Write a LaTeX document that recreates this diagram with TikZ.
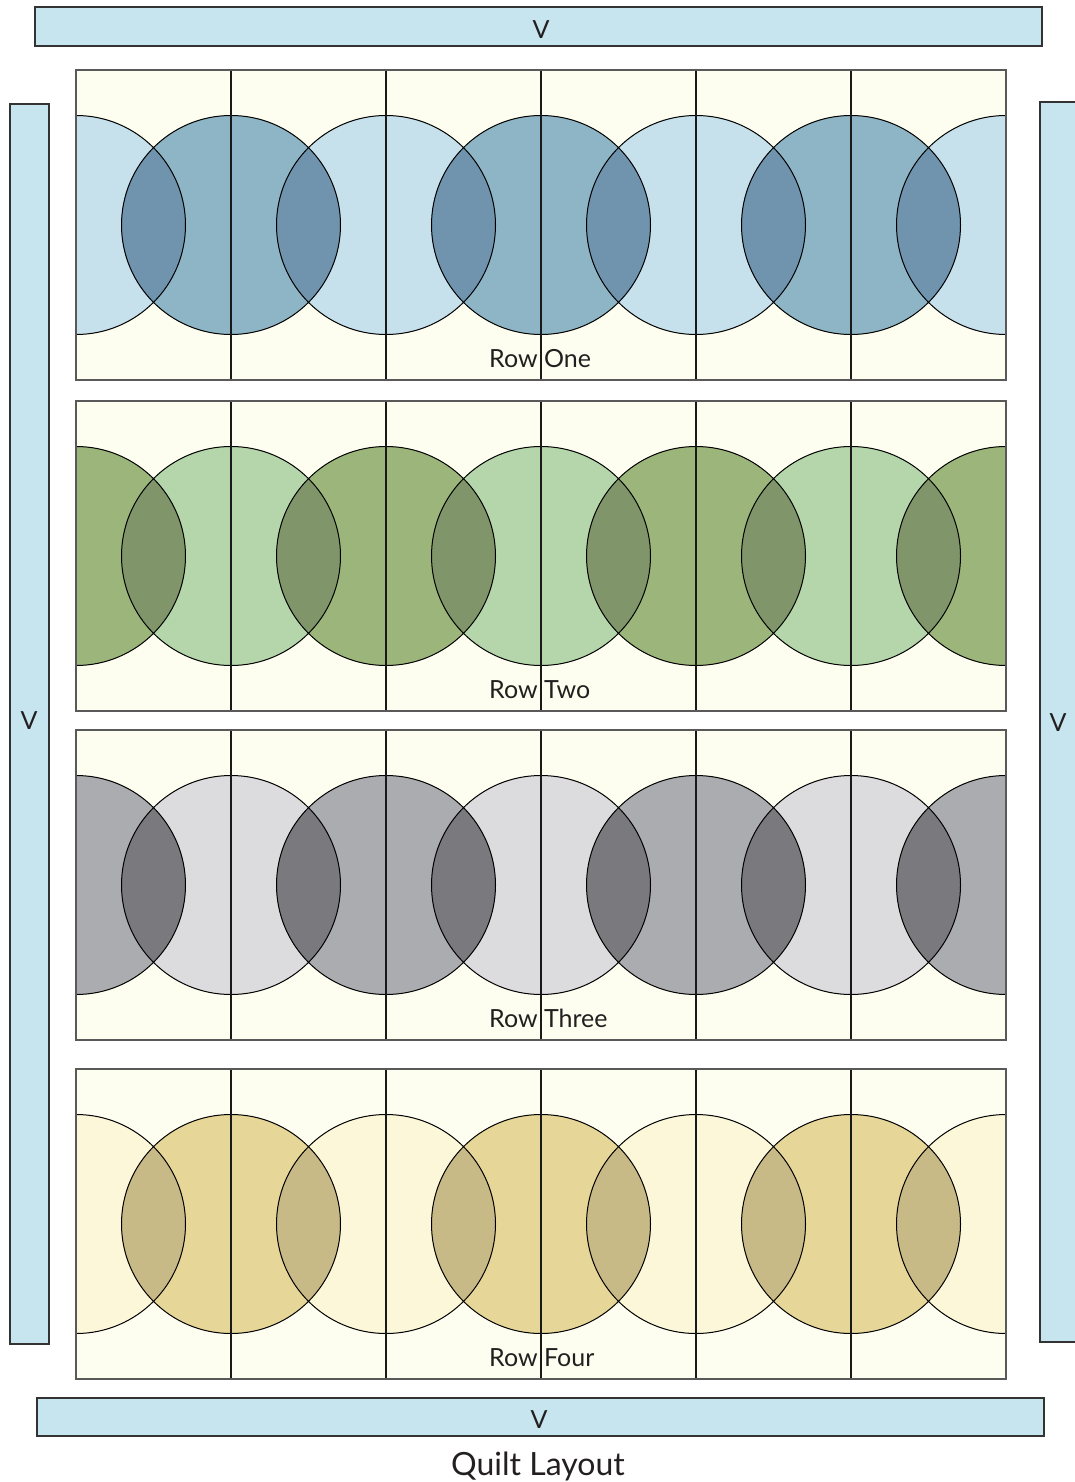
\documentclass[tikz,border=0pt]{standalone}
\usepackage{fontspec}
\setmainfont{Lato}

\definecolor{stripblue}{HTML}{C6E5EE}
\definecolor{cream}{HTML}{FEFEF0}
\definecolor{blueL}{HTML}{C6E0EC}
\definecolor{blueD}{HTML}{8DB5C5}
\definecolor{blueO}{HTML}{7094AE}
\definecolor{greenL}{HTML}{B5D6AA}
\definecolor{greenD}{HTML}{9BB57A}
\definecolor{greenO}{HTML}{80966A}
\definecolor{grayL}{HTML}{DCDCDE}
\definecolor{grayD}{HTML}{ABACB0}
\definecolor{grayO}{HTML}{7A797E}
\definecolor{goldL}{HTML}{FCF7D8}
\definecolor{goldD}{HTML}{E6D697}
\definecolor{goldO}{HTML}{C8BA87}
\definecolor{ink}{HTML}{231F20}

\begin{document}
\begin{tikzpicture}[x=1pt, y=-1pt, font=\fontsize{25}{30}\selectfont,
  strip/.style={draw=black!80, fill=stripblue, line width=1.2pt},
  lab/.style={anchor=base, inner sep=0pt, text=ink},
  ring/.style={draw=black, line width=1pt},
  seam/.style={draw=black!90, line width=1.1pt},
  edge/.style={draw=black!65, line width=1.3pt}]
  \useasboundingbox (0,0) rectangle (1075,1482);
  % borders
  \draw[strip] (35,7) rectangle (1042,46);
  \draw[strip] (10,104) rectangle (49,1344);
  \draw[strip] (1040,102) rectangle (1080,1342);
  \draw[strip] (37,1398) rectangle (1044,1436);
  \node[lab] (vtop) at (541,39) {V};
  \node[lab] (vleft) at (29,729) {V};
  \node[lab] (vright) at (1058,731) {V};
  \node[lab] (vbottom) at (539,1428) {V};
  % rows of circles
  \foreach \top/\ca/\cb/\ov/\name [count=\r] in
    {70/blueL/blueD/blueO/One, 401/greenD/greenL/greenO/Two,
     730/grayD/grayL/grayO/Three, 1069/goldL/goldD/goldO/Four} {
    \pgfmathsetmacro{\mid}{\top+155}
    \fill[cream] (76,\top) rectangle +(930,310);
    \begin{scope}
      \clip (76,\top) rectangle +(930,310);
      \foreach \i in {0,...,6} {
        \ifodd\i \def\c{\cb}\else\def\c{\ca}\fi
        \fill[fill=\c] ({76+155*\i},\mid) circle (109.5);
      }
      \foreach \i in {0,...,5} {
        \begin{scope}
          \clip ({76+155*\i},\mid) circle (109.5);
          \fill[fill=\ov] ({231+155*\i},\mid) circle (109.5);
        \end{scope}
      }
      \foreach \i in {0,...,6}
        \draw[ring] ({76+155*\i},\mid) circle (109.5);
    \end{scope}
    \foreach \i in {1,...,5}
      \draw[seam] ({76+155*\i},\top) -- +(0,310);
    \draw[edge] (76,\top) rectangle +(930,310);
    \node[lab, anchor=base west] (row\r) at (489,\top+297) {Row \name};
  }
  \node[lab, font=\fontsize{32}{38}\selectfont] (title) at (538,1475) {Quilt Layout};
\end{tikzpicture}
\end{document}
